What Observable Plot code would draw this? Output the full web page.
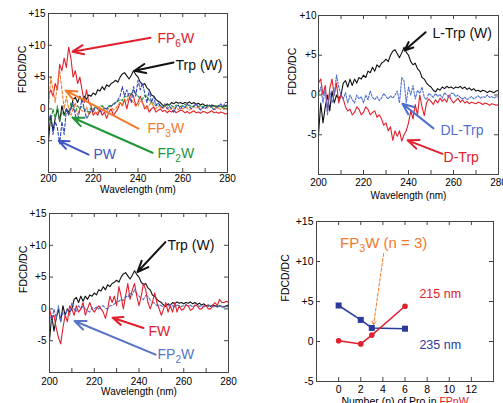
<!DOCTYPE html>
<html><head><meta charset="utf-8">
<script src="https://cdn.jsdelivr.net/npm/d3@7"></script>
<script src="https://cdn.jsdelivr.net/npm/@observablehq/plot@0.6"></script>
<style>
body{margin:0;background:#fff;}
#wrap{position:relative;width:503px;height:403px;overflow:hidden;font-family:"Liberation Sans",Arial,sans-serif;}
#wrap svg{position:absolute;overflow:visible;}
</style></head><body><div id="wrap"></div>
<script>
// ---------- data ----------
const wavelengths = d3.range(200, 281);
const trp = [-5,-1,-3.5,-1.5,0,-2,0.5,-1,0,-0.5,
  0,1.5,1.8,1,2,1.2,2,1.5,2.2,2,
  2.5,2.2,3,2.8,3.5,3,3.8,3.5,4,4.2,
  4.5,4.2,5,5.5,5.7,5.2,4.7,5.3,6,5.4,
  5,4.2,3.8,4,3.3,3,2.2,2,1.5,1.2,
  1,0.6,0.4,0.8,0.6,1,0.8,1.1,0.9,1,
  0.8,1,0.9,1.1,0.8,1,0.7,0.9,0.6,0.8,
  0.5,0.6,0.4,0.6,0.5,0.3,0.5,0.4,0.3,0.5,0.6];
const dTrp = [1.5,2,0,1.2,-2,0.8,2,0,1.5,-1,
  0,-0.5,-1.5,-2,-1.8,-2.5,-2.2,-1.5,-1.8,-2.5,
  -2.2,-1.5,-1.8,-2.5,-2.2,-2,-2.8,-2.5,-3,-3.8,
  -3.5,-4.5,-4,-5.7,-4.5,-5.2,-4.5,-5.8,-5,-4.5,
  -3.5,-2,-3,-1.2,-2.5,0,-1.5,-2.6,-1,-0.5,
  -0.8,-1.2,-0.6,-1,-0.4,-0.8,-0.5,-0.9,0,-0.6,
  -1,-0.7,-0.4,-0.9,-0.6,-1,-0.8,-1.1,-0.9,-1,
  -1.1,-0.9,-1,-1.2,-1,-1.1,-1.3,-1.1,-1.2,-1.3,-1.2];
const dlTrp = [0,1,-1,0.8,-2.5,0.5,-1,0,2.5,1,
  0,-0.5,0.3,-1,0,-0.6,-1,0,-0.5,-0.2,
  -1,0,-0.6,0.5,-0.3,-0.6,-0.2,-0.7,-0.4,0.2,
  -0.2,-0.5,-0.1,-0.4,0,0.5,-1,2.2,1.8,-1,
  1,0,1.2,-0.5,0.6,0.2,1,-0.3,-0.6,0.2,
  0,-0.3,0.2,-0.2,0.1,-0.4,0.3,0,-0.3,0.2,
  0.2,-0.2,0,-0.3,-0.5,-0.3,-0.6,-0.4,-0.2,-0.5,
  -0.3,-0.1,-0.4,-0.2,-0.3,0,-0.3,-0.2,-0.4,-0.2,-0.3];
const fp6w = [2,3,2,4,3,7,6,8,6.5,9.7,
  8,5,6,4,5,3,1,3,1,0.5,
  -1,-0.5,-1,0,-1,-0.5,-1.5,-0.5,0,-1,
  -0.5,0,1,0.5,1.5,0,1.5,2.5,2,0.5,
  1,2,1,0,0.5,-0.5,0,0.3,-0.5,-0.2,
  0,-0.4,-0.2,-0.6,-0.3,-0.5,-0.2,-0.6,-0.4,-0.2,
  -0.3,-0.6,-0.4,-0.7,-0.5,-0.3,-0.6,-0.5,-0.7,-0.4,
  -0.5,-0.7,-0.5,-0.3,-0.6,-0.5,-0.7,-0.5,-0.6,-0.8,-0.7];
const fp3w = [0,5,3,1,4,6,3,0,2,0,
  -1,0,1,-1,0,-0.3,-0.5,0.3,-1,-0.4,
  0,-0.6,-0.5,0.2,0.5,-0.2,-0.5,0.2,0.5,-0.2,
  0,0.6,1,0.6,1.5,1.2,2,1.4,1,0.4,
  0.5,1.2,1,0.3,0,0.6,1,0.4,0,0.4,
  0.3,0,0.4,0.1,-0.2,0.2,0,0.3,-0.1,0.2,
  0,0.3,0.1,-0.2,0.2,0.4,0.1,0.3,0,0.2,
  0.3,0.1,0.4,0.2,0,0.3,0.1,-0.1,0.2,0,0];
const fp2w = [-1,-2,0,-1.5,0.5,-2,-0.5,-1,0,-1,
  1,0,-0.5,0.5,0,0.4,0,-0.3,-0.5,0.2,
  0,0.3,0,0.4,0.5,0.1,0,0.5,0.5,0.8,
  1,1.2,1.5,1.3,2,1.8,2.5,2.2,3,2.4,
  2,1.6,1.5,2.1,2,1.4,1,0.9,0.5,0.7,
  0.5,0.3,0.6,0.4,0.7,0.5,0.3,0.6,0.5,0.4,
  0.5,0.7,0.4,0.6,0.3,0.5,0.6,0.4,0.5,0.3,
  0.5,0.4,0.6,0.3,0.4,0.5,0.3,0.4,0.2,0.4,0.3];
const pw = [-2,-1,-4,-2,-3,-5.5,-2,-4,0,-1,
  0,1,-1,-2,0,1.5,0,-1.5,-1,0,
  -0.5,0.3,0,-0.4,-0.5,0.2,0,0.4,0.5,0.6,
  1,1.4,2,3.5,2,3,2,1,3.5,2,
  4.5,3,4,2.5,1,3,1,2,0.5,1,
  0.5,0.2,0.8,0,0.4,0,-0.5,0.3,0.6,0,
  0.5,0.2,0.8,0.3,0,0.5,0.8,0.2,-0.2,0.3,
  0,0.4,0.6,0.1,-0.1,0,0.5,0.8,0.3,1,1];
const fw = [0,-1.5,-1,-3,-4.5,-5.5,-3,-1,-2,0.5,
  0,-1,0.5,-0.5,0,1,-1,0,1,0,
  -0.5,0,0.5,0,-0.5,-1.5,0,2,1,2,
  0.5,3.5,2,0,2,4,1.5,3,4,2,
  0.5,2,4,3,1,0,1,2.5,1,0,
  -1,0,1,-0.5,0.5,-0.5,1,-0.5,0.5,-0.2,
  0,0.6,0.5,-0.2,0,0.6,0.5,0,0,0.5,
  0.5,0,0,0.6,1,0.5,1.5,1,1,1.2,1];
const nPro = [0, 2, 3, 6];
const fdcd215 = [0.1, -0.3, 0.8, 4.4];
const fdcd235 = [4.5, 2.7, 1.7, 1.6];

const C = {red:"#e0202c", orange:"#f37a2a", green:"#23963a", blue:"#3447b8", blueL:"#4f6fcf", black:"#111", navy:"#2b3a9e"};

// annotations (data units of each panel)
const notes1 = [
  {t:"FP_{6}W", c:C.red, x:248.7, y:11.1, x1:245.6, y1:11.2, x2:210.7, y2:9.0},
  {t:"Trp (W)", c:C.black, x:256.8, y:6.8, x1:255.9, y1:7.3, x2:238.4, y2:6.0},
  {t:"FP_{3}W", c:C.orange, x:244.2, y:-3.1, x1:240.2, y1:-3.1, x2:207.6, y2:2.9},
  {t:"FP_{2}W", c:C.green, x:248.7, y:-7.0, x1:246.5, y1:-6.9, x2:210.7, y2:-1.35},
  {t:"PW", c:"#3f55c0", x:220.1, y:-7.2, x1:217.9, y1:-7.2, x2:204.5, y2:-5.0}
];
const notes2 = [
  {t:"L-Trp (W)", c:C.black, x:250.7, y:7.7, x1:247.6, y1:7.9, x2:238.2, y2:5.6},
  {t:"DL-Trp", c:C.blueL, x:254.2, y:-4.5, x1:251.1, y1:-4.2, x2:237.3, y2:-1.1, dash:"2,2"},
  {t:"D-Trp", c:C.red, x:255.6, y:-7.9, x1:255.1, y1:-7.4, x2:239.6, y2:-5.7}
];
const notes3 = [
  {t:"Trp (W)", c:C.black, x:252.7, y:10.0, x1:251.8, y1:10.5, x2:239.3, y2:5.8},
  {t:"FW", c:C.red, x:244.2, y:-3.6, x1:242.0, y1:-3.0, x2:228.2, y2:-1.4},
  {t:"FP_{2}W", c:"#5874c8", x:248.3, y:-7.2, x1:247.4, y1:-7.2, x2:211.2, y2:-1.9}
];

const signFmt = d => d > 0 ? "+" + d : d < 0 ? "-" + Math.abs(d) : "0";
const wrap = document.getElementById("wrap");
const FONT = '"Liberation Sans", Arial, sans-serif';

function place(svg, left, top) {
  svg.style.left = left + "px"; svg.style.top = top + "px";
  wrap.appendChild(svg);
  richText(svg);
}

function richText(svg) {
  svg.querySelectorAll("text").forEach(el => {
    const t = el.textContent;
    if (!t.includes("_{") && !t.includes("{r:")) return;
    const fs = parseFloat(getComputedStyle(el).fontSize) || 12;
    el.textContent = "";
    const re = /_\{([^}]*)\}|\{r:([^}]*)\}|([^_{]+)/g;
    let m, shift = 0;
    while ((m = re.exec(t))) {
      const ts = document.createElementNS("http://www.w3.org/2000/svg", "tspan");
      if (m[1] !== undefined) {
        ts.textContent = m[1]; ts.setAttribute("font-size", fs * 0.72);
        ts.setAttribute("dy", fs * 0.3); shift = fs * 0.3;
      } else {
        ts.textContent = m[2] !== undefined ? m[2] : m[3];
        if (m[2] !== undefined) ts.setAttribute("fill", C.red);
        if (shift) { ts.setAttribute("dy", -shift); shift = 0; }
      }
      el.appendChild(ts);
    }
  });
}

function inwardTicks(W, H, xt, yt) {
  const s = {stroke: "#444", strokeWidth: 1};
  return [
    Plot.tickX(xt, {x: d => d, insetTop: H - 4, ...s}),
    Plot.tickX(xt, {x: d => d, insetBottom: H - 4, ...s}),
    Plot.tickY(yt, {y: d => d, insetRight: W - 4, ...s}),
    Plot.tickY(yt, {y: d => d, insetLeft: W - 4, ...s})
  ];
}

function spectrum({width, height, m, yDomain, yTicks, series, notes, xPad, xLabDy, yPad}) {
  const W = width - m[1] - m[3], H = height - m[0] - m[2];
  const lines = series.map(s => Plot.line(wavelengths.map((w, i) => ({w, v: s.v[i]})),
    {x: "w", y: "v", stroke: s.c, strokeWidth: 1.1, strokeDasharray: s.dash}));
  return Plot.plot({
    width, height, marginTop: m[0], marginRight: m[1], marginBottom: m[2], marginLeft: m[3],
    style: {fontFamily: FONT, fontSize: "10px", background: "transparent", color: "#000"},
    x: {domain: [200, 280], ticks: [200, 220, 240, 260, 280], tickSize: 0, tickPadding: xPad, label: null},
    y: {domain: yDomain, ticks: yTicks, tickSize: 0, tickPadding: yPad, tickFormat: signFmt, label: null},
    marks: [
      ...lines,
      Plot.frame({stroke: "#444"}),
      ...inwardTicks(W, H, d3.range(210, 280, 10), yTicks),
      Plot.arrow(notes, {x1: "x1", y1: "y1", x2: "x2", y2: "y2", stroke: "c", strokeWidth: 2, headLength: 9, headAngle: 45, strokeDasharray: d => d.dash || null}),
      Plot.text(notes, {x: "x", y: "y", text: "t", fill: "c", fontSize: 14, textAnchor: "start"}),
      Plot.text(["FDCD/DC"], {text: d => d, frameAnchor: "left", rotate: -90, dx: -26, fontSize: 10.5}),
      Plot.text(["Wavelength (nm)"], {text: d => d, frameAnchor: "bottom", dy: xLabDy, fontSize: 10})
    ]
  });
}

place(spectrum({width: 250, height: 200, m: [13, 23, 28, 48], yDomain: [-10, 15], yTicks: [-5, 0, 5, 10, 15],
  series: [
    {v: trp, c: C.black}, {v: fp6w, c: C.red}, {v: fp3w, c: C.orange, dash: "3,2"},
    {v: fp2w, c: C.green, dash: "3,2"}, {v: pw, c: C.blue, dash: "3,2"}
  ], notes: notes1, xPad: 2, xLabDy: 20, yPad: 3}), 0, 0);

place(spectrum({width: 253, height: 205, m: [15, 5, 31, 68], yDomain: [-10, 10], yTicks: [-5, 0, 5, 10],
  series: [
    {v: trp, c: C.black}, {v: dTrp, c: C.red}, {v: dlTrp, c: C.blueL, dash: "2,1.5"}
  ], notes: notes2, xPad: 4, xLabDy: 24, yPad: 2}), 250, 0);

place(spectrum({width: 250, height: 203, m: [13, 22, 31, 49], yDomain: [-10, 15], yTicks: [-5, 0, 5, 10, 15],
  series: [
    {v: trp, c: C.black}, {v: fp2w, c: C.blueL, dash: "3,2"}, {v: fw, c: C.red}
  ], notes: notes3, xPad: 5, xLabDy: 22, yPad: 3}), 0, 200);

// panel 4
(function () {
  const width = 253, height = 203, m = [21, 10, 22, 66];
  const W = width - m[1] - m[3], H = height - m[0] - m[2];
  const t215 = nPro.map((n, i) => ({n, v: fdcd215[i]}));
  const t235 = nPro.map((n, i) => ({n, v: fdcd235[i]}));
  const yT = [-5, 0, 5, 10, 15];
  const lbl = [
    {t: "215 nm", c: C.red, x: 7.3, y: 6.0},
    {t: "235 nm", c: C.navy, x: 7.3, y: -0.4}
  ];
  const arrow4 = [{x1: 4.07, y1: 11, x2: 3.16, y2: 2.1}];
  const svg = Plot.plot({
    width, height, marginTop: m[0], marginRight: m[1], marginBottom: m[2], marginLeft: m[3],
    style: {fontFamily: FONT, fontSize: "10.5px", background: "transparent", color: "#000"},
    x: {domain: [-2, 14], ticks: [0, 2, 4, 6, 8, 10, 12], tickSize: 0, tickPadding: 4, label: null},
    y: {domain: [-5, 15], ticks: yT, tickSize: 0, tickPadding: 3, tickFormat: signFmt, label: null},
    marks: [
      Plot.frame({stroke: "#444"}),
      ...inwardTicks(W, H, [0, 2, 4, 6, 8, 10, 12], yT),
      Plot.line(t235, {x: "n", y: "v", stroke: C.navy, strokeWidth: 1.5}),
      Plot.line(t215, {x: "n", y: "v", stroke: C.red, strokeWidth: 1.5}),
      Plot.dot(t235, {x: "n", y: "v", fill: C.navy, symbol: "square", r: 3.4}),
      Plot.dot(t215, {x: "n", y: "v", fill: C.red, r: 2.8}),
      Plot.arrow(arrow4, {x1: "x1", y1: "y1", x2: "x2", y2: "y2", stroke: C.orange, strokeWidth: 1, strokeDasharray: "3,2", headLength: 6}),
      Plot.text(["FP_{3}W (n = 3)"], {text: d => d, x: 4.07, y: 12.3, fill: C.orange, fontSize: 15}),
      Plot.text(lbl, {x: "x", y: "y", text: "t", fill: "c", fontSize: 12.5, textAnchor: "start"}),
      Plot.text(["FDCD/DC"], {text: d => d, frameAnchor: "left", rotate: -90, dx: -31, fontSize: 10.5}),
      Plot.text(["Number (n) of Pro in {r:FPnW}"], {text: d => d, frameAnchor: "bottom", dy: 23, fontSize: 10.5})
    ]
  });
  place(svg, 250, 200);
})();
</script></body></html>
